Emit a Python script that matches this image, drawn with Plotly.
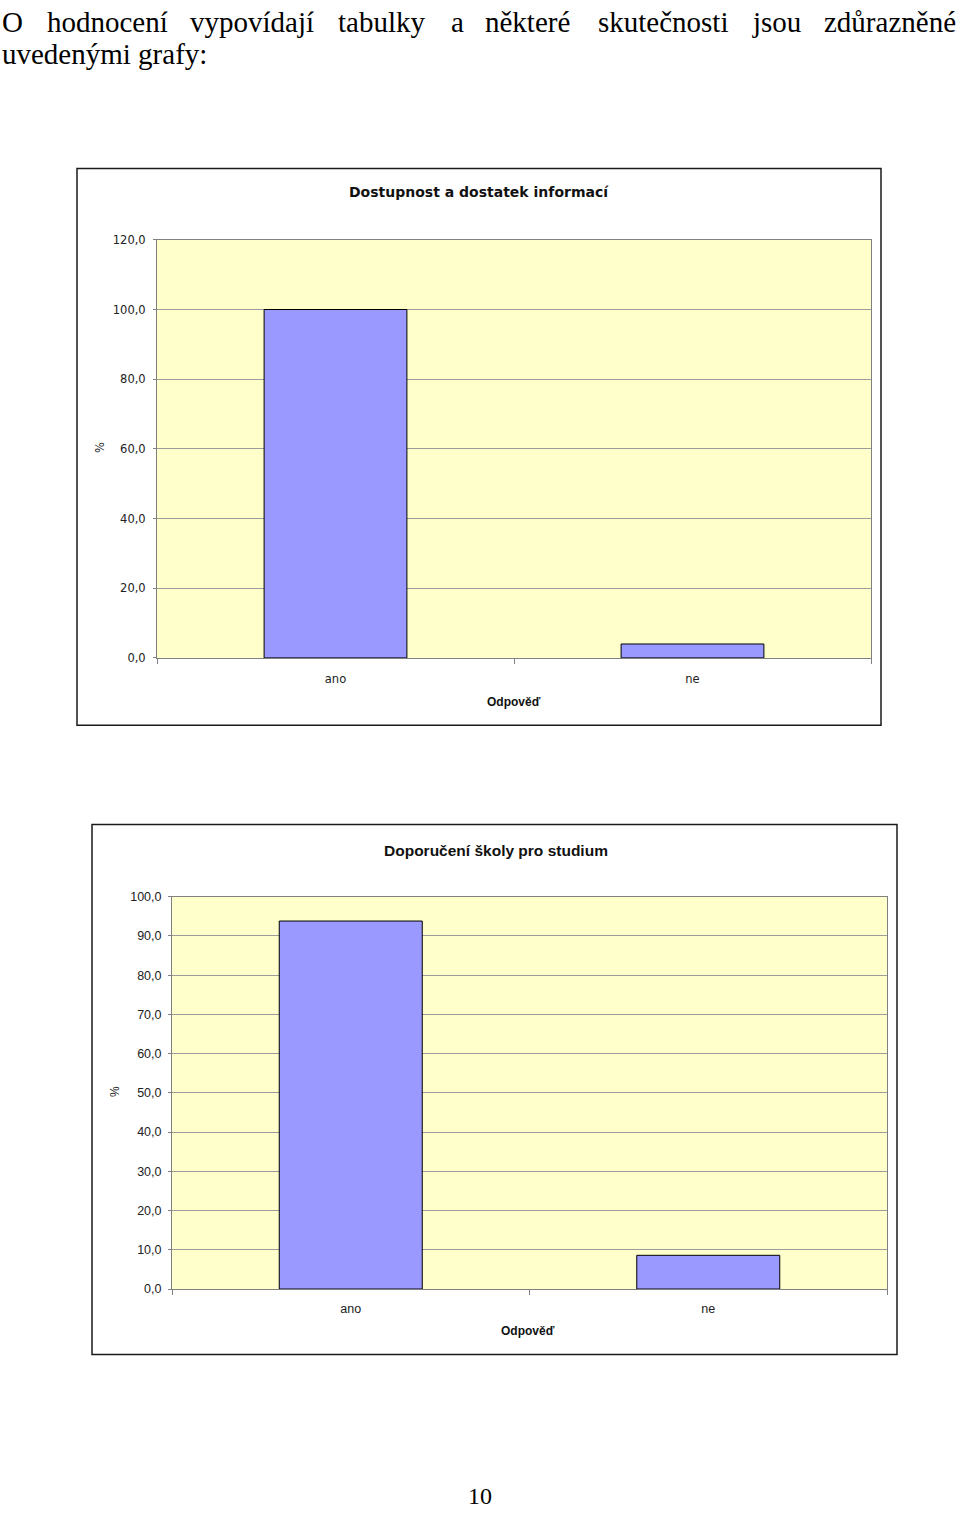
import plotly.graph_objects as go

W, H = 960, 1515

# ---------------- data ----------------
categories = ["ano", "ne"]
chart1_values = [100.0, 4.0]
chart2_values = [93.8, 8.6]
chart1_ticks = [0, 20, 40, 60, 80, 100, 120]
chart2_ticks = [0, 10, 20, 30, 40, 50, 60, 70, 80, 90, 100]
chart1_title = "Dostupnost a dostatek informací"
chart2_title = "Doporučení školy pro studium"
x_title = "Odpověď"
y_title = "%"
intro_line1 = ["O", "hodnocení", "vypovídají", "tabulky", "a", "některé",
               "skutečnosti", "jsou", "zdůrazněné"]
intro_line1_x = [0, 45, 188, 336, 449, 483, 596, 750, 822]
intro_line2 = "uvedenými grafy:"
page_number = "10"


def px(x):
    return x / W


def py(y):
    return 1 - y / H


BAR = dict(color="#9999FF", line=dict(color="#000000", width=1))
GRID = "#9c9c9c"
LINE = "#808080"

fig = go.Figure()
fig.add_trace(go.Bar(x=categories, y=chart1_values, xaxis="x", yaxis="y",
                     marker=BAR, width=0.4, hoverinfo="skip"))
fig.add_trace(go.Bar(x=categories, y=chart2_values, xaxis="x2", yaxis="y2",
                     marker=BAR, width=0.4, hoverinfo="skip"))

font1 = dict(family="DejaVu Sans", size=11.5, color="#222222")
font2 = dict(family="Liberation Sans, Arial", size=12.5, color="#222222")

common_x = dict(showline=True, mirror=True, linecolor=LINE, linewidth=1,
                ticks="outside", tickson="boundaries", ticklen=5,
                tickcolor=LINE, showgrid=False, zeroline=False)
common_y = dict(showline=True, mirror=True, linecolor=LINE, linewidth=1,
                ticks="outside", ticklen=3, tickcolor=LINE, showgrid=True,
                gridcolor=GRID, gridwidth=1, zeroline=False, tickformat=".1f")

fig.update_layout(
    width=W, height=H,
    margin=dict(l=0, r=0, t=0, b=0),
    paper_bgcolor="white",
    plot_bgcolor="#FFFFCC",
    separators=", ",
    showlegend=False,
    xaxis=dict(domain=[px(157), px(871)], anchor="y", tickfont=font1,
               ticklabelstandoff=10, **common_x),
    yaxis=dict(domain=[py(657), py(235)], anchor="x", range=[0, 120],
               tickvals=chart1_ticks, tickfont=font1, ticklabelstandoff=5,
               **common_y),
    xaxis2=dict(domain=[px(172), px(887)], anchor="y2", tickfont=font2,
                ticklabelstandoff=8, **common_x),
    yaxis2=dict(domain=[py(1294), py(898)], anchor="x2", range=[0, 100],
                tickvals=chart2_ticks, tickfont=font2, ticklabelstandoff=4,
                **common_y),
)

# chart borders
for (x0, y0, x1, y1) in [(77, 163, 881, 725), (92, 825, 897, 1360)]:
    fig.add_shape(type="rect", xref="paper", yref="paper",
                  x0=px(x0), x1=px(x1), y0=py(y1), y1=py(y0),
                  line=dict(color="#1a1a1a", width=1.5), fillcolor="rgba(0,0,0,0)")

ann = []
# chart titles
ann.append(dict(text="<b>" + chart1_title + "</b>", x=px(479), y=py(187),
                font=dict(family="DejaVu Sans", size=14, color="#111")))
ann.append(dict(text="<b>" + chart2_title + "</b>", x=px(496), y=py(851),
                font=dict(family="Liberation Sans, Arial", size=15.5, color="#111")))
# axis titles
ann.append(dict(text="<b>" + x_title + "</b>", x=px(514), y=py(701),
                font=dict(family="Liberation Sans, Arial", size=12, color="#111")))
ann.append(dict(text="<b>" + x_title + "</b>", x=px(528), y=py(1336),
                font=dict(family="Liberation Sans, Arial", size=12, color="#111")))
ann.append(dict(text=y_title, x=px(100), y=py(445), textangle=-90,
                font=dict(family="DejaVu Sans", size=11.5, color="#222")))
ann.append(dict(text=y_title, x=px(115), y=py(1095), textangle=-90,
                font=dict(family="Liberation Sans, Arial", size=12, color="#222")))

serif = dict(family="Liberation Serif, Times New Roman", size=29, color="#000")
for word, wx in zip(intro_line1, intro_line1_x):
    ann.append(dict(text=word, x=px(wx), y=py(15), xanchor="left", font=serif))
ann.append(dict(text=intro_line2, x=px(0), y=py(47), xanchor="left", font=serif))
ann.append(dict(text=page_number, x=px(480), y=py(1503),
                font=dict(family="Liberation Serif, Times New Roman", size=24, color="#000")))

for a in ann:
    a.setdefault("xanchor", "center")
    a.update(xref="paper", yref="paper", yanchor="middle", showarrow=False)
    fig.add_annotation(**a)

fig.write_html("out.html")
